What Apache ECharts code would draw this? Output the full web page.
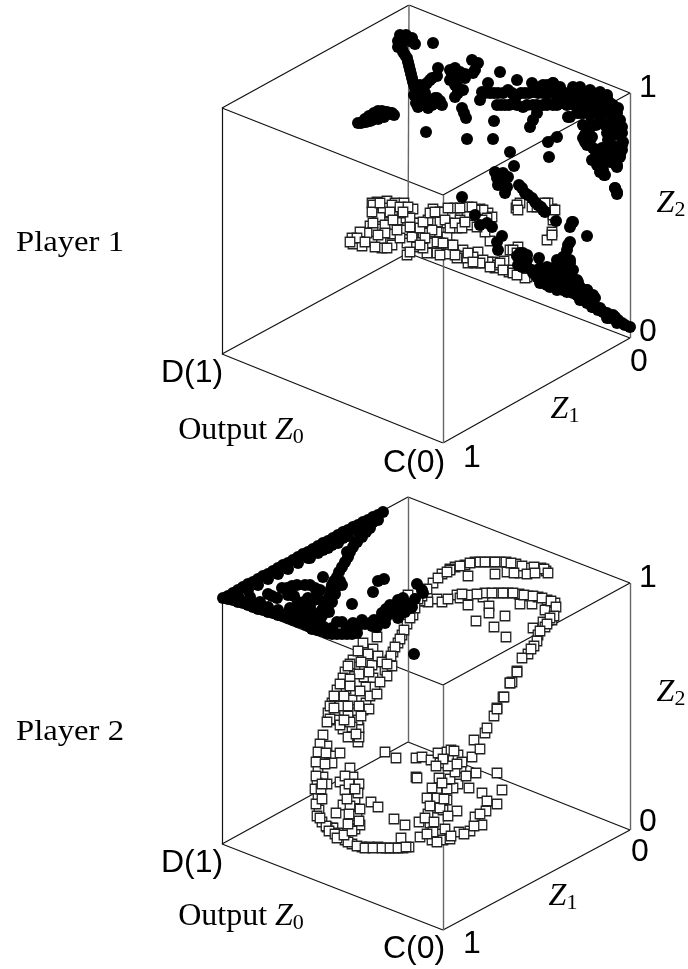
<!DOCTYPE html>
<html><head><meta charset="utf-8">
<style>html,body{margin:0;padding:0;background:#fff}#c{width:688px;height:969px}</style>
<script src="https://cdn.jsdelivr.net/npm/echarts@6/dist/echarts.min.js"></script>
</head><body><div id="c"></div>
<script>
// Projected plot units (horizontal, vertical) within each cube's bounding box
const cube1 = {TL:[0,335],TB:[187,438],TR:[408,350],TF:[221,248],BL:[0,89],BF:[221,0],BR:[408,105],BB:[186,190]};
const cube2 = {TL:[0,336],TB:[186,437],TR:[408,351],TF:[221,249],BL:[0,90],BF:[221,4],BR:[408,104],BB:[186,192]};
const backEdges = [['TL','TB'],['TB','TR'],['TR','TF'],['TF','TL'],['BL','BF'],['BF','BR'],['BR','BB'],['BB','BL'],['TL','BL']];
const greyEdges = [['TF','BF'],['TB','BB'],['TR','BR']];

const player1Filled = [[181,407],[179,405],[182,403],[185,405],[188,402],[191,401],[179,399],[180,395],[181,391],[183,388],[185,385],[186,381],[187,377],[188,373],[189,369],[190,365],[191,361],[192,358],[193,355],[195,352],[195,346],[196,336],[198,353],[206,335],[216,340],[213,345],[208,343],[203,343],[208,363],[216,375],[203,358],[211,400],[204,311],[245,304],[271,304],[272,322],[288,291],[292,277],[278,371],[250,383],[256,380],[253,373],[251,370],[228,373],[233,375],[238,371],[243,369],[230,367],[236,363],[243,365],[228,363],[233,358],[236,353],[241,353],[233,346],[236,350],[240,335],[244,325],[242,330],[258,343],[260,351],[266,360],[268,350],[276,350],[286,353],[295,363],[295,348],[303,350],[310,360],[311,351],[321,358],[331,360],[338,356],[328,353],[335,348],[341,351],[275,338],[283,338],[291,340],[301,336],[311,338],[321,338],[331,338],[341,340],[308,316],[311,323],[315,330],[351,356],[358,356],[368,353],[378,351],[385,348],[353,348],[363,346],[373,343],[383,340],[343,343],[353,338],[363,335],[373,333],[348,326],[358,330],[368,328],[378,330],[390,335],[393,328],[396,318],[398,308],[400,298],[398,288],[394,278],[393,283],[388,313],[383,318],[378,323],[386,303],[390,293],[374,318],[368,315],[363,308],[365,298],[368,303],[363,301],[378,288],[373,293],[370,283],[375,278],[378,271],[382,268],[383,283],[393,255],[395,251],[326,301],[335,306],[327,286],[273,271],[281,270],[286,266],[278,260],[285,256],[297,258],[136,320],[141,321],[146,324],[150,327],[154,329],[159,330],[163,331],[168,330],[144,321],[150,323],[156,324],[162,326],[169,329],[160,332],[281,258],[283,250],[303,250],[310,245],[316,238],[321,233],[334,222],[240,246],[253,228],[258,218],[265,220],[270,216],[280,207],[275,201],[276,193],[350,221],[348,216],[365,207],[348,201],[345,193],[341,186],[317,185],[295,187],[301,190],[305,183],[296,178],[318,175],[311,170],[321,170],[348,180],[335,176],[341,173],[331,166],[321,160],[328,156],[338,160],[348,163],[356,161],[365,153],[371,147],[351,150],[361,143],[370,136],[376,133],[385,130],[393,126],[400,120],[408,116],[388,125],[380,132],[341,153],[333,163],[343,158],[358,148],
[351,353],[358,353],[365,350],[371,350],[378,348],[385,345],[391,338],[396,335],[398,323],[400,316],[400,310],[401,301],[400,293],[398,286],[395,276],[348,340],[355,340],[361,340],[368,340],[375,340],[381,340],[388,340],[346,326],[355,330],[361,330],[368,330],[375,330],[381,330],[388,330],[395,330],[361,318],[368,318],[381,320],[388,320],[393,320],[363,308],[370,306],[385,310],[391,310],[396,308],[371,295],[380,295],[390,298],[395,296],[373,285],[380,285],[386,290],[393,286],[376,278],[381,273],[383,268],[388,281],[395,278],[361,305],[318,356],[325,358],[331,360],[336,353],[341,350],[346,348],[321,350],[330,350],[325,340],[335,341],[341,340],[393,255],[395,249],[279,338],[287,338],[295,338],[305,338],[315,338],[325,338],[335,338],[345,338],[263,350],[272,350],[281,350],[290,350],[299,350],[307,350],[316,350],[325,350],[176,402],[178,408],[184,408],[190,405],[193,399],[176,396],[197,345],[199,340],[194,340],[201,338],[192,348],[198,358],[203,350],[203,338],[210,338],[212,340],[218,342],[220,338],[215,345],[205,360],[210,365],[215,367],[139,320],[148,322],[152,325],[157,327],[160,328],[165,329],[143,324],[147,327],[152,330],[156,332],[165,331],[170,330],[172,328],[335,183],[341,183],[348,183],[325,176],[331,175],[338,175],[345,175],[351,173],[318,166],[325,166],[335,166],[341,166],[348,166],[355,163],[318,160],[325,158],[333,158],[341,158],[350,158],[358,156],[365,153],[335,153],[345,151],[355,148],[363,146],[371,148],[373,145],[358,143],[365,140],[371,136],[378,135],[381,131],[391,128],[396,123],[403,118],[385,125],[395,120],[300,255],[306,248],[313,241],[319,236],[323,231],[275,265],[280,263],[283,255],[276,258],[298,190],[305,176],[310,173],[315,166],[305,188],[300,176],[346,198],[351,221]];

const player1Open = [[155,241],[165,242],[173,240],[182,240],[191,234],[154,231],[163,230],[156,223],[176,223],[184,225],[168,218],[148,217],[157,214],[141,210],[151,211],[170,209],[159,204],[150,202],[131,199],[140,197],[160,195],[170,198],[184,213],[193,220],[197,220],[206,223],[211,234],[218,231],[229,228],[233,235],[245,230],[246,236],[258,234],[266,230],[248,218],[235,215],[218,221],[215,211],[205,212],[225,206],[206,200],[194,196],[185,188],[185,200],[178,205],[228,198],[225,189],[215,190],[205,190],[241,193],[240,187],[256,191],[253,180],[263,180],[271,181],[282,182],[273,175],[287,171],[298,170],[288,193],[296,196],[268,202],[263,211],[325,203],[330,211],[331,223],[330,234],[318,238],[310,236],[298,240],[294,235],[246,180],[235,185],[208,211],[225,220],[198,206],[150,240],[158,226],[180,230],[161,235],[188,225],[201,210],[191,210],[221,231],[238,223],[255,216],[261,233],[270,226],[218,200],[210,213],[275,178],[291,173],[305,166],[245,185],[251,186],[266,181],[325,236],
[151,238],[150,231],[158,240],[170,238],[178,236],[186,236],[168,231],[181,231],[151,220],[163,218],[171,223],[188,216],[145,210],[138,211],[130,205],[135,205],[128,201],[143,201],[153,196],[165,195],[163,210],[156,208],[175,213],[190,206],[198,215],[201,221],[208,230],[213,231],[223,223],[228,215],[233,220],[240,215],[243,221],[253,233],[250,236],[238,235],[226,235],[265,225],[260,223],[215,201],[221,200],[201,195],[188,191],[218,188],[231,198],[233,188],[246,190],[261,183],[258,180],[268,176],[278,180],[281,173],[291,170],[303,165],[295,168],[251,181],[291,193],[295,190],[326,240],[331,228],[333,233],[323,240],[315,236],[330,208],[295,238],[296,233],[203,205],[198,198]];

const player2Filled = [[1,336],[11,341],[21,347],[31,352],[41,358],[51,363],[61,369],[71,374],[81,380],[91,385],[101,391],[111,396],[121,402],[131,407],[141,412],[151,417],[161,422],[101,384],[88,376],[110,389],[121,396],[138,406],[151,412],[148,406],[140,397],[131,387],[126,377],[120,367],[115,357],[110,349],[120,349],[101,357],[108,339],[106,327],[100,324],[91,321],[98,314],[88,312],[11,334],[21,331],[31,327],[41,324],[51,321],[61,318],[71,314],[80,311],[28,337],[38,332],[88,307],[95,304],[105,301],[115,300],[125,300],[135,301],[120,312],[115,312],[131,311],[140,314],[148,311],[155,307],[163,311],[160,321],[168,329],[176,334],[181,336],[176,316],[183,322],[190,327],[195,350],[200,344],[201,341],[130,330],[151,342],[156,353],[162,355],[192,280],[46,340],[55,336],[60,346],[70,348],[83,349],[93,346],[66,339],[76,332],[78,326],[68,326],[88,327],[101,332],[95,339],
[6,338],[16,344],[26,350],[36,355],[46,360],[56,366],[66,371],[76,377],[86,382],[96,388],[106,393],[116,399],[126,404],[136,409],[146,414],[156,419],[16,338],[26,344],[36,349],[46,355],[56,360],[66,365],[76,371],[86,376],[96,381],[106,386],[116,391],[126,398],[136,403],[146,410],[156,414],[144,402],[135,392],[128,382],[123,372],[117,362],[112,353],[109,345],[106,335],[113,345],[118,353],[125,382],[133,392],[113,340],[110,332],[107,322],[100,318],[95,312],[6,335],[16,332],[26,329],[36,325],[46,322],[56,319],[66,316],[76,312],[84,309],[16,337],[26,333],[36,330],[46,327],[56,324],[66,321],[76,318],[86,316],[92,318],[83,322],[90,305],[100,303],[110,300],[120,300],[130,300],[92,310],[102,307],[110,306],[125,306],[135,306],[143,310],[150,308],[152,314],[158,315],[165,318],[172,325],[164,325],[180,325],[186,330],[193,335],[172,322],[178,320],[187,326],[50,338],[65,346],[75,349],[88,349],[98,344],[72,338],[82,332],[86,336],[92,334],[73,326]];

const player2Open = [[211,351],[220,360],[233,367],[243,369],[253,372],[268,372],[278,372],[294,370],[306,366],[319,366],[324,363],[298,361],[285,362],[273,360],[246,358],[228,365],[215,335],[220,332],[235,339],[238,336],[246,339],[246,329],[261,337],[263,341],[276,341],[286,341],[297,340],[306,338],[298,330],[310,330],[316,337],[325,334],[333,331],[331,322],[323,324],[321,312],[330,314],[311,306],[323,307],[316,299],[315,293],[312,288],[306,280],[300,276],[295,263],[288,251],[290,252],[281,237],[275,226],[267,328],[267,321],[283,318],[254,313],[272,307],[284,297],[200,333],[206,332],[228,364],[198,333],[186,339],[191,319],[185,310],[180,299],[176,291],[171,282],[168,274],[151,285],[141,291],[155,297],[131,274],[148,272],[133,267],[123,262],[150,269],[163,264],[142,257],[151,256],[121,256],[115,244],[124,245],[144,247],[153,247],[110,231],[130,234],[144,231],[106,221],[121,223],[132,221],[113,219],[115,214],[124,213],[121,205],[137,206],[136,192],[137,197],[126,197],[136,214],[141,224],[101,199],[105,188],[98,177],[109,178],[118,181],[110,171],[96,164],[101,157],[95,151],[96,137],[97,124],[100,112],[110,106],[118,97],[130,90],[140,87],[147,87],[156,87],[164,86],[172,86],[181,86],[187,87],[111,106],[105,107],[116,101],[128,166],[131,157],[137,150],[118,152],[123,144],[105,150],[133,135],[121,129],[114,121],[133,124],[131,115],[133,105],[138,109],[149,132],[156,127],[172,115],[183,109],[179,96],[163,182],[174,176],[194,176],[200,177],[209,174],[218,171],[216,181],[225,182],[231,174],[229,184],[236,179],[239,166],[250,177],[252,194],[258,185],[263,201],[265,206],[272,218],[275,225],[282,237],[288,251],[295,262],[194,157],[195,156],[217,156],[254,161],[275,161],[236,150],[231,146],[260,141],[280,144],[275,130],[264,123],[235,123],[225,134],[215,144],[215,136],[205,136],[213,126],[221,124],[206,120],[208,111],[197,112],[198,97],[210,94],[218,100],[221,94],[228,95],[237,102],[248,103],[253,117],[260,109],
[146,280],[136,283],[128,270],[126,268],[139,272],[156,278],[160,272],[170,268],[165,258],[158,252],[147,262],[137,260],[128,255],[118,250],[128,248],[138,243],[148,238],[155,240],[122,238],[112,238],[108,228],[118,228],[126,228],[137,228],[147,225],[112,226],[108,215],[126,218],[139,218],[118,209],[130,207],[134,200],[128,212],[105,212],[122,214],[205,345],[200,338],[196,335],[193,326],[188,316],[182,304],[178,295],[173,287],[169,278],[165,270],[216,356],[225,362],[238,368],[248,371],[258,372],[263,372],[273,372],[284,372],[289,371],[300,368],[312,367],[322,365],[326,361],[305,360],[313,361],[292,361],[226,335],[240,340],[255,340],[270,341],[281,341],[291,341],[302,339],[311,338],[320,336],[329,333],[334,327],[332,318],[328,316],[325,310],[318,303],[309,285],[98,190],[96,182],[94,172],[94,158],[93,145],[94,130],[95,118],[104,108],[107,103],[113,100],[123,94],[126,92],[135,88],[143,86],[151,86],[160,86],[168,86],[176,86],[184,87],[98,116],[99,145],[103,170],[104,181],[100,135],[100,150],[115,96],[122,99],[123,158],[127,150],[136,141],[133,145],[128,128],[135,118],[137,113],[127,120],[125,135],[138,125],[130,103],[126,110],[208,128],[203,116],[211,102],[215,92],[205,100],[212,112],[218,126],[222,135],[225,145],[228,155],[233,162],[240,172],[226,168],[221,175],[214,168],[232,183],[235,170],[244,158],[247,146],[226,118],[223,105],[229,98],[242,100],[252,108],[258,120],[265,133],[210,146],[220,151]];

const sans = 'Liberation Sans';
const serif = 'Liberation Serif';
const tickLabels = [
 ['1',648,88],['0',648,332],['0',639,362],['1',472,458],['D(1)',192,373],['C(0)',414,463],
 ['1',648,578],['0',648,822],['0',640,852],['1',472,944],['D(1)',192,863],['C(0)',414,949]
];
const axisNames = [
 ['{i|Z}{s|2}',671,204],['{i|Z}{s|1}',565,410],['{r|Output }{i|Z}{s|0}',241,431],
 ['{i|Z}{s|2}',671,693],['{i|Z}{s|1}',563,897],['{r|Output }{i|Z}{s|0}',241,917]
];
const playerLabels = [['Player 1',70,243],['Player 2',70,732]];

const rich = {
 r:{fontFamily:serif,fontSize:32,fill:'#000'},
 i:{fontFamily:serif,fontSize:32,fontStyle:'italic',fill:'#000'},
 s:{fontFamily:serif,fontSize:22,fill:'#000',verticalAlign:'bottom',padding:[12,0,0,0]}
};
const graphic = [];
tickLabels.forEach(t=>graphic.push({type:'text',x:t[1],y:t[2],silent:true,style:{text:t[0],font:'32px "'+sans+'"',fill:'#000',align:'center',verticalAlign:'middle'}}));
axisNames.forEach(t=>graphic.push({type:'text',x:t[1],y:t[2],silent:true,style:{text:t[0],rich:rich,align:'center',verticalAlign:'middle'}}));
playerLabels.forEach(t=>graphic.push({type:'text',x:t[1],y:t[2],scaleX:1.09,silent:true,style:{text:t[0],font:'30px "'+serif+'"',fill:'#000',align:'center',verticalAlign:'middle'}}));

function edgeSeries(cube,edges,idx,color,width){
 return {type:'lines',coordinateSystem:'cartesian2d',xAxisIndex:idx,yAxisIndex:idx,silent:true,z:1,
  lineStyle:{color:color,width:width,opacity:1},
  data:edges.map(e=>({coords:[cube[e[0]],cube[e[1]]]}))};
}
function scatter(data,idx,filled){
 return {type:'scatter',xAxisIndex:idx,yAxisIndex:idx,data:data,clip:false,silent:true,z:filled?4:3,large:false,
  symbol:filled?'circle':'rect',symbolSize:filled?12:9.5,
  itemStyle:filled?{color:'#000',opacity:1}:{color:'#fff',borderColor:'#222',borderWidth:1.3,opacity:1}};
}
const axisBase = {show:false,type:'value'};
const option = {
 animation:false,backgroundColor:'#fff',
 grid:[{left:222,top:5,width:408,height:438},{left:222,top:496,width:408,height:438}],
 xAxis:[{...axisBase,gridIndex:0,min:0,max:408},{...axisBase,gridIndex:1,min:0,max:408}],
 yAxis:[{...axisBase,gridIndex:0,min:0,max:438},{...axisBase,gridIndex:1,min:0,max:438}],
 graphic:graphic,
 series:[
  edgeSeries(cube1,backEdges,0,'#111',1.2),edgeSeries(cube1,greyEdges,0,'#666',1.4),
  edgeSeries(cube2,backEdges,1,'#111',1.2),edgeSeries(cube2,greyEdges,1,'#666',1.4),
  scatter(player1Open,0,false),scatter(player1Filled,0,true),
  scatter(player2Open,1,false),scatter(player2Filled,1,true)
 ]
};
echarts.init(document.getElementById('c')).setOption(option);
</script></body></html>
